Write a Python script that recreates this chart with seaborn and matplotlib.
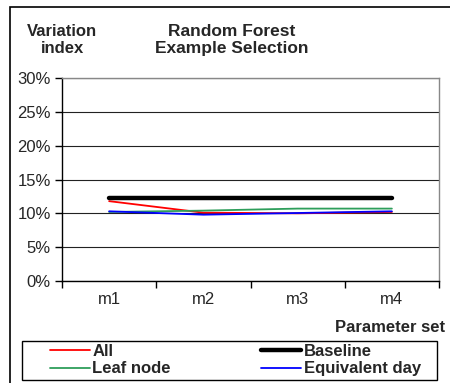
import matplotlib
matplotlib.use("Agg")
import matplotlib.pyplot as plt
import seaborn as sns
import pandas as pd
from matplotlib.patches import Rectangle
from matplotlib.ticker import FixedLocator

sns.set_theme(style="white")
plt.rcParams['font.family'] = ['Liberation Sans', 'DejaVu Sans']

categories = ["m1", "m2", "m3", "m4"]
all_vals = [11.8, 10.1, 10.0, 10.2]
baseline = [12.3, 12.3, 12.3, 12.3]
leaf_node = [10.2, 10.4, 10.7, 10.7]
equiv_day = [10.3, 9.8, 10.05, 10.3]
yticks = [0, 5, 10, 15, 20, 25, 30]

series = [("All", all_vals, "#ff0000", 1.3),
          ("Leaf node", leaf_node, "#2e9e5b", 1.3),
          ("Baseline", baseline, "#000000", 3.2),
          ("Equivalent day", equiv_day, "#0000ff", 1.3)]

fig = plt.figure(figsize=(4.5, 3.83), dpi=100)
ax = fig.add_axes([62/450, 1-281/383, (439-62)/450, (281-78)/383])

for name, vals, color, lw in series:
    df = pd.DataFrame({"x": categories, "y": vals})
    sns.lineplot(data=df, x="x", y="y", ax=ax, color=color, linewidth=lw,
                 label=name, sort=False)

ax.set_xlim(-0.5, 3.5)
ax.set_ylim(0, 30)
ax.set_yticks(yticks)
ax.set_yticklabels([f"{v}%" for v in yticks], fontsize=12)
ax.yaxis.grid(True, color="#222222", linewidth=0.8)
ax.set_axisbelow(True)
ax.set_xticks(range(4))
ax.set_xticklabels(categories, fontsize=12)
ax.xaxis.set_minor_locator(FixedLocator([-0.5, 0.5, 1.5, 2.5, 3.5]))
ax.tick_params(axis="x", which="major", length=0, pad=8)
ax.tick_params(axis="x", which="minor", length=5, width=1, color="black", direction="out", bottom=True)
ax.tick_params(axis="y", length=5, width=1, color="black", direction="out", left=True, pad=3)
ax.set_xlabel("")
ax.set_ylabel("")
for s in ["left", "bottom"]:
    ax.spines[s].set_color("black")
    ax.spines[s].set_linewidth(1)
for s in ["top", "right"]:
    ax.spines[s].set_color("#888888")
    ax.spines[s].set_linewidth(1)

ax.get_legend().remove()
handles, labels = ax.get_legend_handles_labels()
leg = fig.legend(handles, labels, ncol=2, loc="upper left",
                 bbox_to_anchor=(50/450, 1-344/383),
                 fontsize=12, frameon=False, borderpad=0, labelspacing=0.14,
                 handlelength=2.4, handletextpad=0.15, columnspacing=5.4,
                 borderaxespad=0)
for t in leg.get_texts():
    t.set_fontweight("bold")

fig.patches.append(Rectangle((22/450, 1-380/383), (437-22)/450, (380-341)/383,
                             transform=fig.transFigure, fill=False,
                             edgecolor="black", linewidth=1))

fig.text(62/450, 1-40/383, "Variation\nindex", ha="center", va="center",
         fontsize=12, fontweight="bold", linespacing=1.15)
fig.text(232/450, 1-40/383, "Random Forest\nExample Selection", ha="center", va="center",
         fontsize=12.5, fontweight="bold", linespacing=1.15)
fig.text(445/450, 1-327/383, "Parameter set", ha="right", va="center",
         fontsize=12, fontweight="bold")

fig.patches.append(Rectangle((10/450, -0.1), 1.0, 1.1 - 7/383, transform=fig.transFigure,
                             fill=False, edgecolor="black", linewidth=1.2))

fig.savefig("out.png", dpi=100)
